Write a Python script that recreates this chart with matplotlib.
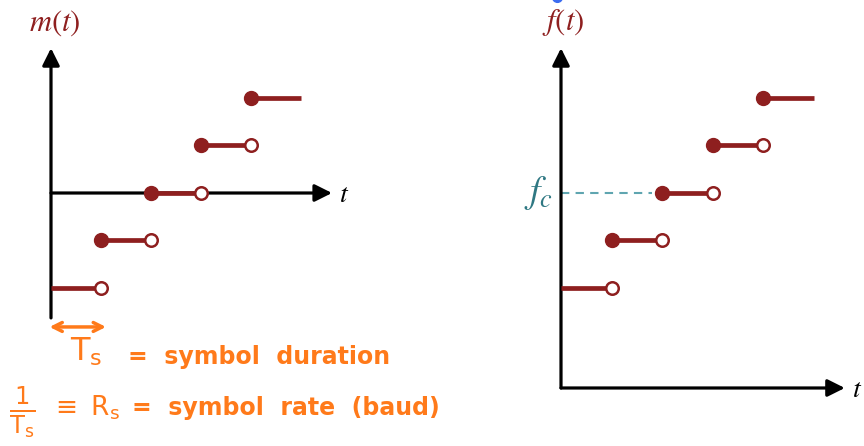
import matplotlib
matplotlib.use("Agg")
import matplotlib.pyplot as plt

# ---- data ----
symbol_index = [0, 1, 2, 3, 4]          # symbol slots (in units of T_s)
m_levels = [-2, -1, 0, 1, 2]            # message levels m(t)
f_levels = [-2, -1, 0, 1, 2]            # frequency levels relative to f_c
fc_level = 0
duration = 1.0

RED = "#8e1f1f"
TEAL = "#2f7883"
TEAL_DASH = "#5fa5b0"
ORANGE = "#ff7a1a"

W, H = 864, 446
fig = plt.figure(figsize=(W / 100, H / 100), dpi=100)

def fpx(x, y):
    return (x / W, 1 - y / H)

def make_axes(left_px, width_px, x0_px, unit_x, y0_px, unit_y):
    ax = fig.add_axes([left_px / W, 0, width_px / W, 1])
    ax.set_xlim((left_px - x0_px) / unit_x, (left_px + width_px - x0_px) / unit_x)
    ax.set_ylim((y0_px - H) / unit_y, y0_px / unit_y)
    ax.axis("off")
    return ax

def draw_steps(ax, idx, levels):
    n = len(idx)
    for k, (i, lv) in enumerate(zip(idx, levels)):
        t0, t1 = i * duration, (i + 1) * duration
        ax.plot([t0, t1], [lv, lv], color=RED, lw=3.4, solid_capstyle="butt", zorder=3)
        if k > 0:
            ax.plot([t0], [lv], "o", ms=10, color=RED, zorder=4)
        if k < n - 1:
            ax.plot([t1], [lv], "o", ms=9, mfc="white", mec=RED, mew=1.8, zorder=5)

def arrow(ax, start, end):
    ax.annotate("", xy=end, xytext=start,
                arrowprops=dict(arrowstyle="-|>", lw=2.3, color="black",
                                mutation_scale=26, shrinkA=0, shrinkB=0),
                zorder=2)

# ---- left panel: m(t) ----
axL = make_axes(0, 432, 51, 50.0, 193, 47.5)
arrow(axL, (0, -2.63), (0, 3.05))
arrow(axL, (0, 0), (5.62, 0))
draw_steps(axL, symbol_index, m_levels)

fig.text(*fpx(55, 23), r"$m(t)$", color=RED, fontsize=22, ha="center", va="center",
         math_fontfamily="stix")
fig.text(*fpx(344, 194), r"$t$", color="black", fontsize=20, ha="center", va="center",
         math_fontfamily="stix")

# ---- right panel: f(t) ----
axR = make_axes(432, 432, 561, 50.5, 193, 47.5)
x_axis_level = -4.105
arrow(axR, (0, x_axis_level), (0, 3.05))
arrow(axR, (0, x_axis_level), (5.62, x_axis_level))
axR.plot([0, symbol_index[2] - 0.2], [fc_level, fc_level], color=TEAL_DASH, lw=1.5,
         dashes=(4, 3), zorder=1)
draw_steps(axR, symbol_index, f_levels)
axR.plot([-0.08], [4.12], "o", ms=7, color="#3b6cf0", clip_on=True, zorder=6)

fig.text(*fpx(563, 23), r"$f(t)$", color=RED, fontsize=22, ha="center", va="center",
         math_fontfamily="stix")
fig.text(*fpx(852, 389), r"$t$", color="black", fontsize=20, ha="left", va="center",
         math_fontfamily="stix")
fig.text(*fpx(539, 193), r"$f_c$", color=TEAL, fontsize=27, ha="center", va="center",
         math_fontfamily="stix")

# ---- handwritten notes ----
axL.annotate("", xy=(1.1, -2.82), xytext=(-0.03, -2.82),
             arrowprops=dict(arrowstyle="<->", lw=2.5, color=ORANGE,
                             mutation_scale=16, shrinkA=0, shrinkB=0))
fig.text(*fpx(70, 352), r"$\mathsf{T_s}$", color=ORANGE, fontsize=23, ha="left",
         va="center", math_fontfamily="dejavusans")
fig.text(*fpx(128, 357), "=  symbol  duration", color=ORANGE, fontsize=17,
         ha="left", va="center", family="DejaVu Sans", fontweight="bold")
fig.text(*fpx(22, 412), r"$\mathsf{\frac{1}{T_s}}$", color=ORANGE, fontsize=25,
         ha="center", va="center", math_fontfamily="dejavusans")
fig.text(*fpx(50, 408), r"$\equiv\ \mathsf{R_s}$", color=ORANGE, fontsize=19,
         ha="left", va="center", math_fontfamily="dejavusans")
fig.text(*fpx(132, 408), "=  symbol  rate  (baud)", color=ORANGE, fontsize=17,
         ha="left", va="center", family="DejaVu Sans", fontweight="bold")

fig.savefig("out.png", dpi=100)
